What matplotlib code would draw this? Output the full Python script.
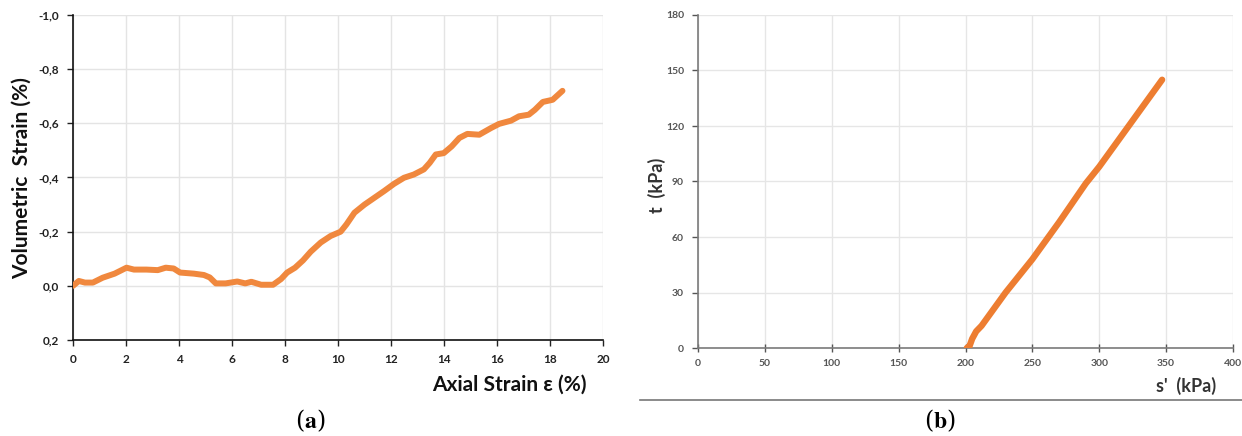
import numpy as np
import matplotlib.pyplot as plt
from matplotlib.lines import Line2D

plt.rcParams['font.family'] = ['Lato', 'DejaVu Sans']
plt.rcParams['mathtext.fontset'] = 'stix'

# (a) axial strain vs volumetric strain (%)
axial_strain = [0.0, 0.22, 0.45, 0.75, 1.12, 1.57, 2.02, 2.3, 2.77, 3.2, 3.5, 3.8, 4.04,
                4.56, 4.94, 5.16, 5.39, 5.76, 6.2, 6.5, 6.73, 7.1, 7.55, 7.85, 8.08, 8.38,
                8.68, 8.97, 9.35, 9.72, 10.1, 10.32, 10.62, 11.0, 11.37, 11.74, 12.12,
                12.49, 12.86, 13.24, 13.46, 13.69, 13.99, 14.29, 14.58, 14.88, 15.33,
                15.78, 16.08, 16.53, 16.83, 17.2, 17.43, 17.73, 18.1, 18.47]
vol_strain = [0.0, -0.018, -0.012, -0.012, -0.03, -0.045, -0.067, -0.06, -0.06, -0.058,
              -0.067, -0.064, -0.049, -0.045, -0.04, -0.031, -0.009, -0.009, -0.016,
              -0.009, -0.015, -0.004, -0.004, -0.025, -0.049, -0.067, -0.094, -0.126,
              -0.16, -0.184, -0.2, -0.227, -0.27, -0.30, -0.325, -0.35, -0.377, -0.399,
              -0.411, -0.43, -0.454, -0.485, -0.49, -0.515, -0.546, -0.561, -0.558,
              -0.583, -0.598, -0.61, -0.626, -0.632, -0.65, -0.679, -0.687, -0.72]

# (b) stress path s' vs t (kPa)
s_eff = [201, 203, 205, 208, 212, 220, 230, 250, 270, 290, 300, 320, 330, 340, 347]
t_val = [0, 1, 5, 9, 12, 20, 30, 48, 68, 89, 98, 118, 128, 138, 145]

a_xticks = np.arange(0, 21, 2)
a_yticks = [-1.0, -0.8, -0.6, -0.4, -0.2, 0.0, 0.2]
a_ylabels = ['-1,0', '-0,8', '-0,6', '-0,4', '-0,2', '0,0', '0,2']
b_xticks = np.arange(0, 401, 50)
b_yticks = np.arange(0, 181, 30)

fig = plt.figure(figsize=(12.42, 4.36), dpi=100)

# ---------------- panel (a)
ax1 = fig.add_axes([73/1242, 1-340/436, 530/1242, 325/436])
ax1.plot(axial_strain, vol_strain, color='#F0883E', lw=4.3, solid_capstyle='round',
         solid_joinstyle='round', zorder=3)
ax1.set_xlim(0, 20)
ax1.set_ylim(0.2, -1.0)
ax1.set_xticks(a_xticks)
ax1.set_yticks(a_yticks)
ax1.set_yticklabels(a_ylabels)
ax1.grid(True, color='#e4e4e4', lw=1.0, zorder=0)
for sp in ['top', 'right']:
    ax1.spines[sp].set_visible(False)
for sp in ['left', 'bottom']:
    ax1.spines[sp].set_color('#111111')
    ax1.spines[sp].set_linewidth(1.2)
ax1.tick_params(direction='out', length=4, width=1, colors='#222222', labelsize=8.5, pad=6)
for lab in ax1.get_xticklabels() + ax1.get_yticklabels():
    lab.set_fontweight('bold')
fig.text(22/1242, 1-178/436, 'Volumetric  Strain (%)', rotation=90, ha='center', va='center',
         fontsize=15, fontweight='bold', color='#111111')
fig.text(587/1242, 1-385/436, 'Axial Strain ε (%)',
         ha='right', va='center', fontsize=15, fontweight='bold', color='#111111')

# ---------------- panel (b)
ax2 = fig.add_axes([698/1242, 1-348/436, 535/1242, 333/436])
ax2.plot(s_eff, t_val, color='#ED7D31', lw=4.6, solid_capstyle='round', zorder=3)
ax2.set_xlim(0, 400)
ax2.set_ylim(0, 180)
ax2.set_xticks(b_xticks)
ax2.set_yticks(b_yticks)
ax2.grid(True, color='#e6e6e6', lw=1.0, zorder=0)
for sp in ['top', 'right']:
    ax2.spines[sp].set_visible(False)
for sp in ['left', 'bottom']:
    ax2.spines[sp].set_color('#7a7a7a')
    ax2.spines[sp].set_linewidth(1.2)
ax2.tick_params(axis='x', direction='inout', length=6, width=1, colors='#555555', labelsize=7.5, pad=5)
ax2.tick_params(axis='y', direction='out', length=4, width=1, colors='#555555', labelsize=7.5, pad=6)
for lab in ax2.get_xticklabels() + ax2.get_yticklabels():
    lab.set_fontweight('bold')
fig.text(657/1242, 1-185/436, 't  (kPa)', rotation=90, ha='center', va='center',
         fontsize=13, fontweight='bold', color='#333333')
fig.text(1216/1242, 1-386/436, "s'  (kPa)", ha='right', va='center',
         fontsize=13, fontweight='bold', color='#333333')

fig.add_artist(Line2D([640/1242, 1.0], [1-400/436, 1-400/436], color='#777777', lw=1.2))

fig.text(310/1242, 1-421/436, r'($\mathbf{a}$)', ha='center', va='center', fontsize=17,
         family='DejaVu Serif')
fig.text(940/1242, 1-421/436, r'($\mathbf{b}$)', ha='center', va='center', fontsize=17,
         family='DejaVu Serif')

fig.savefig('out.png', dpi=100)
